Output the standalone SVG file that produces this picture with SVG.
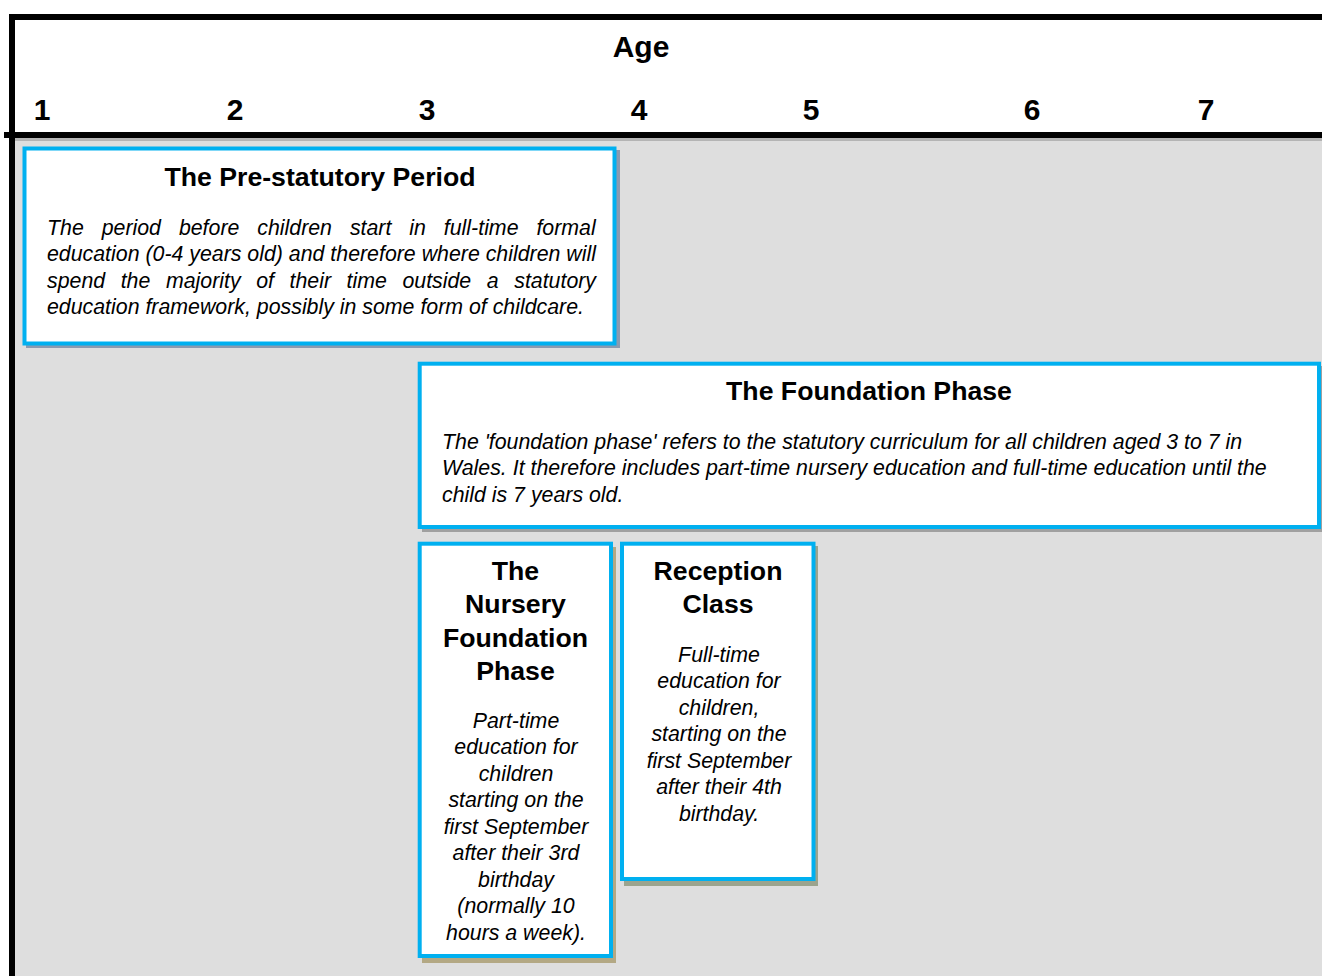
<svg xmlns="http://www.w3.org/2000/svg" width="1322" height="976" viewBox="0 0 1322 976">
<style>
.hdr{font-family:"Liberation Sans",Arial,sans-serif;font-weight:bold;font-size:30px;fill:#000;text-anchor:middle}
.title{font-family:"Liberation Sans",Arial,sans-serif;font-weight:bold;font-size:26.67px;fill:#000;text-anchor:middle}
.body{font-family:"Liberation Sans",Arial,sans-serif;font-style:italic;font-size:21.33px;fill:#000}
.c{text-anchor:middle}
.box{fill:#fff;stroke:#00b0f0;stroke-width:4}
</style>
<rect x="0" y="0" width="1322" height="976" fill="#fff"/>
<g id="background">
<rect x="12" y="135" width="1310" height="841" fill="#dedede"/>
<rect x="15" y="138" width="1307" height="3" fill="#b4b4b4"/>
</g>
<g id="header">
<line x1="9" y1="17" x2="1322" y2="17" stroke="#000" stroke-width="6"/>
<line x1="4" y1="135" x2="1322" y2="135" stroke="#000" stroke-width="6"/>
<line x1="12" y1="14" x2="12" y2="976" stroke="#000" stroke-width="6"/>
<text class="hdr" x="641" y="57">Age</text>
<text class="hdr" x="42" y="119.5">1</text>
<text class="hdr" x="235" y="119.5">2</text>
<text class="hdr" x="427" y="119.5">3</text>
<text class="hdr" x="639" y="119.5">4</text>
<text class="hdr" x="811" y="119.5">5</text>
<text class="hdr" x="1032" y="119.5">6</text>
<text class="hdr" x="1206" y="119.5">7</text>
</g>
<g id="pre-statutory">
<rect x="26" y="150" width="594" height="198" fill="#8a9ab0"/>
<rect class="box" x="24.5" y="148.5" width="590" height="195"/>
<text class="title" x="320" y="185.5">The Pre-statutory Period</text>
<text class="body" x="47" y="234.6" word-spacing="12">The period before children start in full-time formal</text>
<text class="body" x="47" y="261.1">education (0-4 years old) and therefore where children will</text>
<text class="body" x="47" y="287.6" word-spacing="9.65">spend the majority of their time outside a statutory</text>
<text class="body" x="47" y="314.1">education framework, possibly in some form of childcare.</text>
</g>
<g id="foundation-phase">
<rect x="422" y="366" width="900" height="166" fill="#a0a0a0"/>
<rect class="box" x="419.7" y="363.7" width="899.3" height="163.3"/>
<text class="title" x="869" y="399.5">The Foundation Phase</text>
<text class="body" x="442" y="448.6">The 'foundation phase' refers to the statutory curriculum for all children aged 3 to 7 in</text>
<text class="body" x="442" y="475.1">Wales. It therefore includes part-time nursery education and full-time education until the</text>
<text class="body" x="442" y="501.6">child is 7 years old.</text>
</g>
<g id="nursery">
<rect x="422" y="547" width="194" height="416" fill="#b3a884"/>
<rect class="box" x="419.7" y="543.7" width="191.3" height="412.3"/>
<text class="title" x="515.5" y="579.5">The</text>
<text class="title" x="515.5" y="613">Nursery</text>
<text class="title" x="515.5" y="646.5">Foundation</text>
<text class="title" x="515.5" y="680">Phase</text>
<text class="body c" x="516" y="727.6">Part-time</text>
<text class="body c" x="516" y="754.1">education for</text>
<text class="body c" x="516" y="780.6">children</text>
<text class="body c" x="516" y="807.1">starting on the</text>
<text class="body c" x="516" y="833.6">first September</text>
<text class="body c" x="516" y="860.1">after their 3rd</text>
<text class="body c" x="516" y="886.6">birthday</text>
<text class="body c" x="516" y="913.1">(normally 10</text>
<text class="body c" x="516" y="939.6">hours a week).</text>
</g>
<g id="reception">
<rect x="624" y="546" width="194" height="340" fill="#9ca48e"/>
<rect class="box" x="622" y="543.7" width="191.5" height="335.3"/>
<text class="title" x="718" y="579.5">Reception</text>
<text class="title" x="718" y="613">Class</text>
<text class="body c" x="719" y="661.6">Full-time</text>
<text class="body c" x="719" y="688.1">education for</text>
<text class="body c" x="719" y="714.6">children,</text>
<text class="body c" x="719" y="741.1">starting on the</text>
<text class="body c" x="719" y="767.6">first September</text>
<text class="body c" x="719" y="794.1">after their 4th</text>
<text class="body c" x="719" y="820.6">birthday.</text>
</g>
<g id="connectors"></g>
</svg>
